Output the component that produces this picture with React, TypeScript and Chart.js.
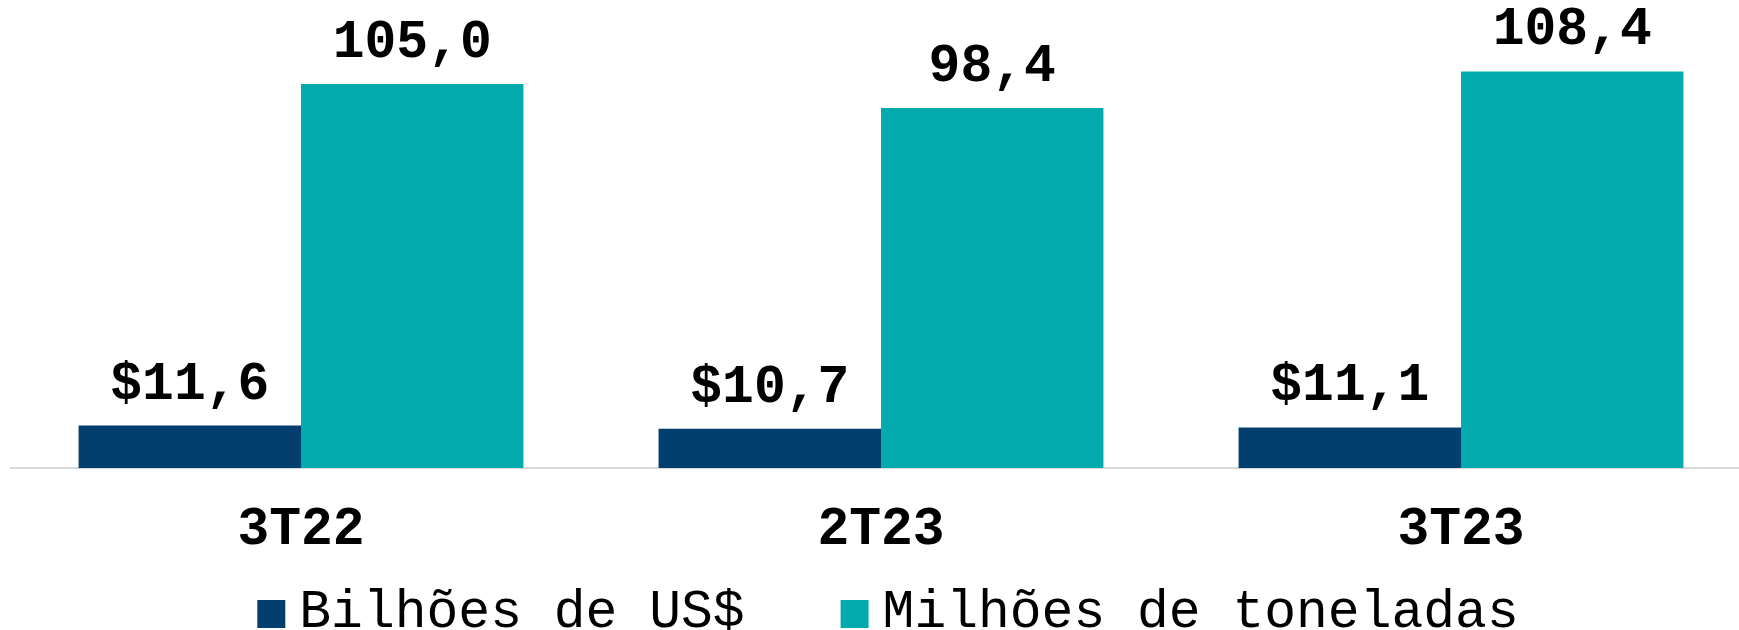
import React, { useEffect, useRef } from "react";
import { Chart, registerables } from "chart.js";

Chart.register(...registerables);

const categories = ["3T22", "2T23", "3T23"];
const seriesNames = ["Bilhões de US$", "Milhões de toneladas"];
const revenueUSD = [11.6, 10.7, 11.1];
const volumeTonnes = [105.0, 98.4, 108.4];
const seriesColors = ["#023f6f", "#03abae"];

const FONT = "'Liberation Mono', 'Courier New', monospace";

const fmt = (v: number) => v.toFixed(1).replace(".", ",");

const valueLabels = {
  id: "valueLabels",
  afterDatasetsDraw(chart: any) {
    const ctx = chart.ctx;
    ctx.save();
    ctx.font = `bold 53px ${FONT}`;
    ctx.fillStyle = "#000000";
    ctx.textAlign = "center";
    ctx.textBaseline = "alphabetic";
    chart.data.datasets.forEach((ds: any, di: number) => {
      const meta = chart.getDatasetMeta(di);
      meta.data.forEach((bar: any, i: number) => {
        const v = ds.data[i] as number;
        const txt = (di === 0 ? "$" : "") + fmt(v);
        ctx.fillText(txt, bar.x, bar.y - 27);
      });
    });
    ctx.restore();
  },
};

const customLegend = {
  id: "customLegend",
  afterDraw(chart: any) {
    const ctx = chart.ctx;
    ctx.save();
    ctx.font = `53px ${FONT}`;
    const box = 28;
    const gap = 14;
    const itemGap = 96;
    const items = chart.data.datasets.map((ds: any) => ({
      label: ds.label,
      color: ds.backgroundColor,
      w: ctx.measureText(ds.label).width,
    }));
    const total =
      items.reduce((s: number, it: any) => s + box + gap + it.w, 0) +
      itemGap * (items.length - 1);
    let x = 888 - total / 2;
    const baseY = 627;
    items.forEach((it: any) => {
      ctx.fillStyle = it.color;
      ctx.fillRect(x, 600, box, box);
      ctx.fillStyle = "#000000";
      ctx.textAlign = "left";
      ctx.textBaseline = "alphabetic";
      ctx.fillText(it.label, x + box + gap, baseY);
      x += box + gap + it.w + itemGap;
    });
    ctx.restore();
  },
};

export default function App() {
  const ref = useRef<HTMLCanvasElement | null>(null);

  useEffect(() => {
    if (!ref.current) return;
    const chart = new Chart(ref.current, {
      type: "bar",
      data: {
        labels: categories,
        datasets: [
          {
            label: seriesNames[0],
            data: revenueUSD,
            backgroundColor: seriesColors[0],
            categoryPercentage: 0.767,
            barPercentage: 1.0,
          },
          {
            label: seriesNames[1],
            data: volumeTonnes,
            backgroundColor: seriesColors[1],
            categoryPercentage: 0.767,
            barPercentage: 1.0,
          },
        ],
      },
      options: {
        responsive: false,
        animation: false,
        devicePixelRatio: 1,
        layout: { padding: { left: 11, right: 9, top: 29, bottom: 0 } },
        plugins: {
          legend: { display: false },
          tooltip: { enabled: false },
        },
        scales: {
          x: {
            grid: { display: false, drawTicks: false },
            border: { display: true, color: "#d9d9d9", width: 2 },
            ticks: {
              color: "#000000",
              padding: 31,
              font: { family: FONT, size: 53, weight: "bold" },
            },
            afterFit(scale: any) {
              scale.height = 162;
            },
          },
          y: {
            display: false,
            min: 0,
            max: 120,
          },
        },
      },
      plugins: [valueLabels, customLegend],
    });
    return () => chart.destroy();
  }, []);

  return (
    <div
      style={{
        position: "fixed",
        left: 0,
        top: 0,
        width: 1739,
        height: 630,
        overflow: "hidden",
        background: "#ffffff",
      }}
    >
      <canvas ref={ref} width={1760} height={630} style={{ display: "block", width: 1760, height: 630 }} />
    </div>
  );
}
